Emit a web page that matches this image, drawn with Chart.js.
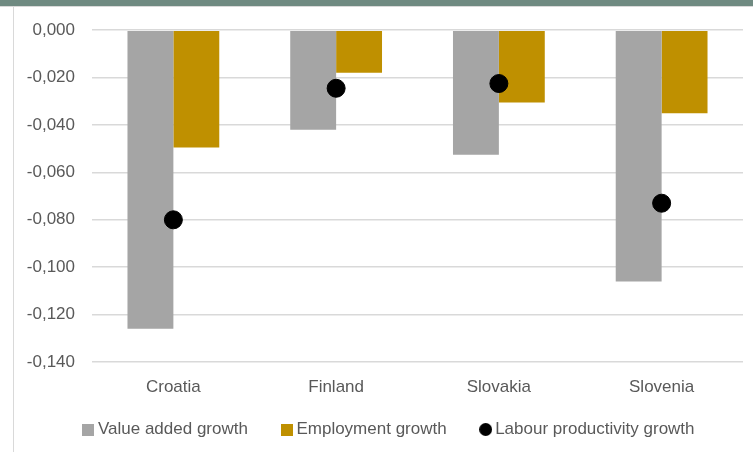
<!DOCTYPE html>
<html><head><meta charset="utf-8">
<script src="https://cdn.jsdelivr.net/npm/chart.js@4/dist/chart.umd.min.js"></script>
<style>
html,body{margin:0;padding:0;background:#fff;width:753px;height:452px;overflow:hidden;}
#band{position:absolute;left:0;top:0;width:753px;height:6px;background:#6f8a81;z-index:2;}
#bandline{position:absolute;left:0;top:6px;width:753px;height:1px;background:#d9d9d9;z-index:2;}
#border{position:absolute;left:13px;top:7px;width:1px;height:445px;background:#d9d9d9;}
#wrap{position:absolute;left:14px;top:3px;width:739px;height:449px;z-index:1;}
</style></head><body>
<div id="band"></div><div id="bandline"></div><div id="border"></div>
<div id="wrap"><canvas id="c"></canvas></div>
<script>
const categories = ["Croatia", "Finland", "Slovakia", "Slovenia"];
const valueAdded = [-0.126, -0.042, -0.0525, -0.106];
const employment = [-0.0495, -0.018, -0.0305, -0.035];
const labourProd = [-0.080, -0.0245, -0.0225, -0.073];
const yTicks = [0, -0.02, -0.04, -0.06, -0.08, -0.10, -0.12, -0.14];

const FONT = "'Liberation Sans', Arial, sans-serif";
const COLORS = ['#a5a5a5', '#bf9000', '#000000'];

function markerCanvas(kind, color){
  const c = document.createElement('canvas');
  const s = kind === 'circle' ? 13 : 12;
  c.width = s; c.height = s;
  const g = c.getContext('2d');
  g.fillStyle = color;
  if (kind === 'circle'){ g.beginPath(); g.arc(s/2, s/2, s/2, 0, Math.PI*2); g.fill(); }
  else { g.fillRect(0, 0, s, s); }
  return c;
}
const legendMarkers = [markerCanvas('rect', COLORS[0]), markerCanvas('rect', COLORS[1]), markerCanvas('circle', COLORS[2])];

const legendFit = {
  id:'legendFit',
  beforeInit(chart){
    const lg = chart.legend;
    const orig = lg.fit;
    lg.fit = function(){ orig.call(this); this.height = 60; };
  },
  beforeDraw(chart){
    const lg = chart.legend;
    if (!lg._shifted){ lg.left += 24; lg.top -= 9; lg._shifted = true; }
  },
  afterLayout(chart){ chart.legend._shifted = false; }
};
new Chart(document.getElementById('c'), {
  data: {
    labels: categories,
    datasets: [
      {type:'bar', label:'Value added growth', data: valueAdded, backgroundColor:COLORS[0], order:1,
       categoryPercentage:0.564, barPercentage:1.0},
      {type:'bar', label:'Employment growth', data: employment, backgroundColor:COLORS[1], order:1,
       categoryPercentage:0.564, barPercentage:1.0},
      {type:'line', label:'Labour productivity growth', data: labourProd, showLine:false,
       pointRadius:9, pointHoverRadius:9, pointBackgroundColor:COLORS[2], pointBorderColor:COLORS[2],
       backgroundColor:COLORS[2], borderColor:COLORS[2], pointStyle:'circle', order:0}
    ]
  },
  plugins:[legendFit],
  options: {
    responsive:true, maintainAspectRatio:false, animation:false,
    layout:{padding:{top:6,right:9,left:0,bottom:0}},
    plugins:{
      tooltip:{enabled:false},
      legend:{position:'bottom',
        labels:{usePointStyle:true, boxWidth:2, boxHeight:12, color:'#595959', padding:38,
          font:{family:FONT,size:17},
          generateLabels:(chart)=>{
            const items = Chart.defaults.plugins.legend.labels.generateLabels(chart);
            items.forEach(it=>{ it.pointStyle = legendMarkers[it.datasetIndex]; });
            return items.sort((a,b)=>a.datasetIndex-b.datasetIndex);
          }}}
    },
    scales:{
      x:{grid:{display:false, drawTicks:false}, border:{display:false},
         afterFit:(s)=>{s.height=30;},
         ticks:{color:'#595959', font:{family:FONT,size:17}, padding:15}},
      y:{min:-0.14, max:0, grid:{color:'#d9d9d9', lineWidth:1.5, drawTicks:false}, border:{display:false},
         afterBuildTicks:(s)=>{s.ticks = yTicks.map(v=>({value:v}));},
         afterFit:(s)=>{s.width=78;},
         ticks:{color:'#595959', font:{family:FONT,size:17}, padding:17,
           callback:(v)=>{const t=Math.abs(v).toFixed(3).replace('.',','); return (v<-1e-9?'-':'')+t;}}}
    }
  }
});
</script></body></html>
